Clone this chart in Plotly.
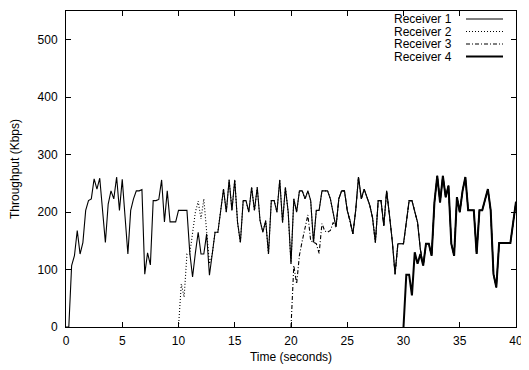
import plotly.graph_objects as go

# Sampling grid: 0 .. 40 s every 0.25 s
time_s = [i * 0.25 for i in range(161)]

receiver1 = [
    0, 0, 107, 124,
    168, 127, 147, 203,
    220, 223, 258, 240,
    259, 203, 147, 214,
    237, 223, 261, 203,
    257, 192, 127, 203,
    223, 237, 237, 239,
    92, 129, 108, 220,
    220, 222, 256, 183,
    237, 183, 183, 183,
    203, 203, 203, 203,
    130, 87, 129, 165,
    127, 127, 162, 90,
    127, 165, 165, 205,
    240, 200, 256, 203,
    256, 182, 147, 220,
    220, 200, 243, 203,
    243, 185, 165, 185,
    127, 220, 220, 200,
    256, 182, 243, 200,
    110, 223, 200, 237,
    237, 223, 237, 220,
    147, 203, 203, 237,
    237, 237, 223, 200,
    174, 223, 237, 237,
    203, 185, 162, 203,
    261, 223, 240, 226,
    212, 190, 147, 220,
    220, 176, 237, 195,
    150, 92, 145, 145,
    145, 182, 220, 220,
    203, 182, 135, 107,
    145, 145, 124, 217,
    263, 217, 263, 226,
    246, 145, 124, 226,
    200, 237, 261, 203,
    203, 203, 127, 203,
    203, 223, 240, 203,
    92, 69, 146, 146,
    146, 146, 146, 182,
    218,
]

# Receivers joining later: own values while converging, then identical stream
receiver2_join = [0, 75, 52, 127, 127, 160, 200, 219, 188, 223, 168, 110]          # 10.0 .. 12.75 s
receiver3_join = [0, 107, 75, 125, 150, 170, 195, 150, 148, 145, 128, 180,
                  167, 165, 168, 182]                                               # 20.0 .. 23.75 s
receiver4_join = [0, 91, 91, 55, 130, 110, 127]                                     # 30.0 .. 31.5 s

receiver2 = receiver2_join + receiver1[52:]
receiver3 = receiver3_join + receiver1[96:]
receiver4 = receiver4_join + receiver1[127:]

series = [
    ("Receiver 1", time_s, receiver1, "solid", 1.1),
    ("Receiver 2", time_s[40:], receiver2, "1px,2px", 1.1),
    ("Receiver 3", time_s[80:], receiver3, "4px,2px,1px,2px", 1.1),
    ("Receiver 4", time_s[120:], receiver4, "solid", 2.0),
]

x_ticks = [0, 5, 10, 15, 20, 25, 30, 35, 40]
y_ticks = [0, 100, 200, 300, 400, 500]

FONT = "Liberation Sans, Arial, Helvetica, sans-serif"

fig = go.Figure()
for name, xs, ys, dash, w in series:
    fig.add_trace(go.Scatter(x=xs, y=ys, mode="lines", name=name,
                             line=dict(color="black", width=w, dash=dash),
                             showlegend=False))

# The page body adds an 8 px offset, so the figure is 8 px smaller than the window
OFF = 8
W, H = 529 - OFF, 370 - OFF
L, T = 58, 3
pw, ph = 450, 316
R, B = W - L - pw, H - T - ph

def px_to_paper_x(px):  # px in window pixels
    return (px - OFF - L) / pw

def px_to_paper_y(py):
    return (T + ph - (py - OFF)) / ph

annotations = []
shapes = []
legend_rows = [19, 31.5, 44, 56.5]
for (name, xs, ys, dash, w), row in zip(series, legend_rows):
    annotations.append(dict(xref="paper", yref="paper", x=px_to_paper_x(454), y=px_to_paper_y(row),
                            xanchor="right", yanchor="middle", text=name, showarrow=False,
                            font=dict(family=FONT, size=12, color="black")))
    shapes.append(dict(type="line", xref="paper", yref="paper",
                       x0=px_to_paper_x(466), x1=px_to_paper_x(503),
                       y0=px_to_paper_y(row), y1=px_to_paper_y(row),
                       line=dict(color="black", width=w, dash=dash)))

axis_common = dict(showline=True, linecolor="black", linewidth=1, mirror="ticks",
                   ticks="inside", ticklen=5, tickcolor="black", tickwidth=1,
                   showgrid=False, zeroline=False, automargin=False,
                   tickfont=dict(family=FONT, size=12, color="black"))

fig.update_layout(
    width=W, height=H,
    margin=dict(l=L, r=R, t=T, b=B, autoexpand=False),
    paper_bgcolor="white", plot_bgcolor="white",
    font=dict(family=FONT, size=12, color="black"),
    xaxis=dict(range=[0, 40], tickvals=x_ticks, ticktext=[str(v) for v in x_ticks],
               title=dict(text="Time (seconds)", font=dict(family=FONT, size=12), standoff=5),
               ticklabelstandoff=3, **axis_common),
    yaxis=dict(range=[0, 550], tickvals=y_ticks, ticktext=[str(v) for v in y_ticks],
               title=dict(text="Throughput (Kbps)", font=dict(family=FONT, size=12), standoff=15),
               ticklabelstandoff=5, **axis_common),
    annotations=annotations,
    shapes=shapes,
)

fig.write_html("out.html")
